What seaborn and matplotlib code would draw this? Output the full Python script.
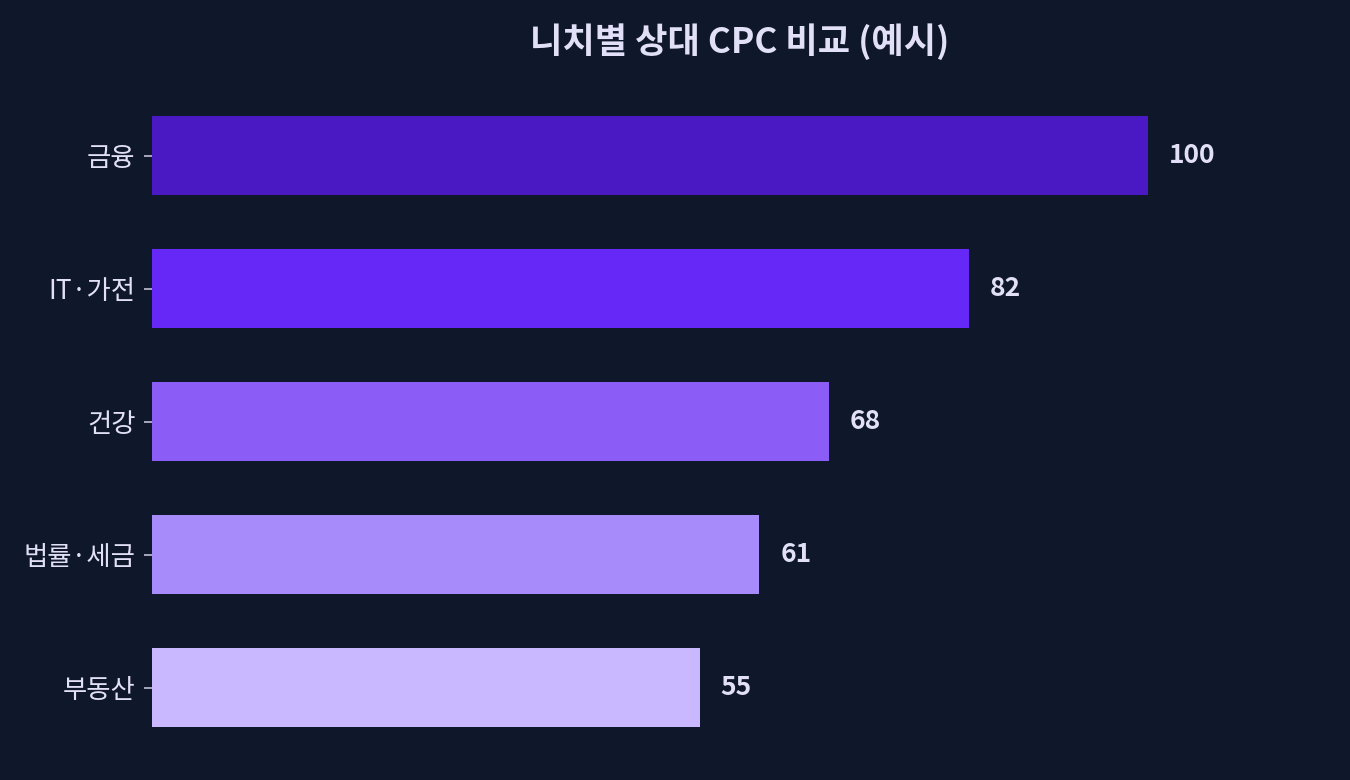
import matplotlib
matplotlib.use("Agg")
import matplotlib.pyplot as plt
import seaborn as sns
import pandas as pd

niches = ["금융", "IT·가전", "건강", "법률·세금", "부동산"]
relative_cpc = [100, 82, 68, 61, 55]
bar_colors = ["#4A19C4", "#6528F7", "#8B5CF6", "#A78BFA", "#C9B8FF"]

bg = "#0F172A"
text_color = "#E2E0F8"

sns.set_theme(style="white")
plt.rcParams['font.family'] = ['Noto Sans CJK KR', 'DejaVu Sans']

df = pd.DataFrame({"niche": niches, "cpc": relative_cpc})

fig = plt.figure(figsize=(13.5, 7.8), dpi=100, facecolor=bg)
ax = fig.add_axes([152 / 1350, 1 - 754 / 780, (1330 - 152) / 1350, (754 - 89) / 780])
ax.set_facecolor(bg)

sns.barplot(data=df, x="cpc", y="niche", hue="niche", palette=bar_colors,
            legend=False, width=0.6, saturation=1, linewidth=0, ax=ax)

for i, v in enumerate(relative_cpc):
    ax.text(v + 2.1, i, f"{v}", va="center", ha="left", fontsize=19,
            fontweight="bold", color=text_color)

ax.set_xlim(0, 118.3)
ax.set_xticks([])
ax.set_xlabel("")
ax.set_ylabel("")
for s in ax.spines.values():
    s.set_visible(False)
ax.tick_params(axis="y", colors="#C0C0D0", labelcolor=text_color, labelsize=19,
               length=6, width=1.2, left=True, pad=6)

fig.text(740 / 1350, 1 - 42 / 780, "니치별 상대 CPC 비교 (예시)", ha="center", va="center",
         fontsize=25.3, fontweight="bold", color=text_color)

fig.savefig("out.png", dpi=100, facecolor=bg)
